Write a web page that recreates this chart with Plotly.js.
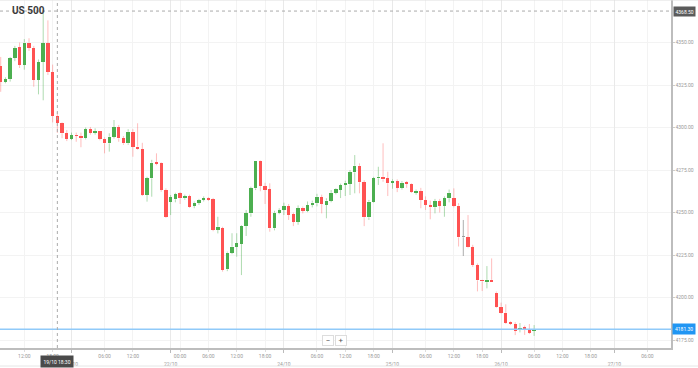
<!DOCTYPE html>
<html>
<head>
<meta charset="utf-8">
<script src="https://cdn.plot.ly/plotly-3.0.1.min.js"></script>
<style>html,body{margin:0;padding:0;background:#fff;}#chart{width:698px;height:368px;}</style>
</head>
<body>
<div id="chart"></div>
<script>
// hourly candles, index 0 = first visible candle (19/10)
const openP = [4336.2,4326.8,4328.5,4340.9,4347.4,4336.8,4350.0,4346.8,4328.0,4338.5,
4349.7,4332.6,4306.8,4302.6,4296.6,4293.4,4295.6,4295.0,4293.7,4299.0,
4297.0,4297.8,4293.4,4290.7,4294.6,4300.1,4293.6,4290.7,4297.5,4288.7,
4287.2,4260.3,4270.1,4279.7,4278.9,4263.2,4256.4,4257.8,4261.3,4258.4,
4259.7,4253.8,4255.8,4257.4,4258.4,4257.8,4239.7,4240.7,4216.6,4226.4,
4229.9,4231.5,4242.0,4249.5,4264.2,4280.5,4265.6,4263.6,4240.7,4250.0,
4251.5,4253.8,4249.1,4244.6,4252.8,4251.1,4254.4,4255.4,4259.0,4254.4,
4257.0,4261.6,4263.2,4266.2,4266.8,4273.6,4277.5,4267.8,4247.2,4256.4,
4270.1,4271.0,4270.1,4267.5,4268.5,4264.6,4267.8,4266.8,4261.6,4262.6,
4257.4,4254.4,4253.1,4256.8,4253.8,4258.4,4258.4,4254.0,4235.4,4235.6,
4229.5,4219.1,4210.1,4209.0,4210.4,4202.8,4194.6,4191.0,4185.6,4184.4,
4181.0,4182.5,4181.2,4180.5];
const highP = [4341.5,4329.5,4341.5,4348.0,4350.0,4352.0,4352.5,4348.0,4340.0,4367.4,
4363.0,4337.0,4309.0,4303.0,4298.5,4297.0,4297.0,4297.0,4300.0,4300.3,
4299.5,4297.8,4294.2,4296.6,4304.4,4301.5,4295.0,4299.0,4299.0,4302.5,
4291.0,4271.0,4281.0,4284.8,4279.5,4264.2,4260.3,4261.6,4262.0,4260.5,
4260.5,4256.5,4258.0,4259.5,4259.0,4258.6,4247.5,4241.6,4227.0,4237.8,
4237.8,4242.5,4251.5,4265.2,4280.5,4280.8,4267.5,4267.2,4251.0,4252.5,
4255.8,4255.0,4250.0,4254.2,4253.5,4256.5,4257.0,4261.0,4260.5,4258.4,
4263.2,4264.2,4267.0,4268.7,4275.0,4283.8,4278.9,4269.0,4257.4,4271.0,
4276.9,4290.7,4274.0,4269.5,4269.5,4268.5,4268.5,4267.2,4263.5,4264.5,
4259.5,4257.0,4258.0,4258.0,4259.5,4263.5,4264.2,4255.5,4245.6,4248.5,
4231.0,4220.0,4210.4,4218.5,4223.0,4203.5,4197.0,4196.0,4186.0,4185.5,
4185.0,4183.5,4184.4,4183.8];
const lowP = [4321.0,4326.0,4327.0,4339.0,4335.0,4334.0,4345.0,4324.0,4319.5,4316.0,
4330.9,4303.0,4296.8,4293.7,4292.0,4292.6,4291.6,4288.4,4293.0,4295.8,
4295.8,4292.5,4284.8,4285.8,4293.5,4291.6,4289.8,4289.8,4282.8,4286.8,
4259.7,4256.4,4259.3,4277.8,4262.2,4246.9,4248.5,4256.0,4255.0,4257.5,
4252.8,4252.5,4254.5,4256.5,4256.8,4239.0,4237.7,4215.2,4215.5,4225.5,
4224.0,4213.2,4236.2,4247.5,4263.2,4262.5,4255.0,4238.7,4239.5,4249.0,
4248.5,4245.6,4242.0,4242.8,4249.5,4250.2,4253.0,4253.6,4249.5,4246.6,
4256.0,4260.7,4258.5,4259.7,4260.3,4261.3,4261.3,4242.0,4245.6,4255.8,
4266.2,4268.1,4259.7,4264.0,4262.0,4263.5,4264.5,4261.5,4260.5,4252.5,
4251.5,4246.0,4249.5,4250.0,4247.5,4256.0,4253.0,4230.0,4224.4,4229.0,
4218.0,4203.6,4203.8,4205.4,4209.2,4194.0,4190.5,4184.5,4183.8,4177.9,
4179.5,4178.0,4178.5,4177.4];
const closeP = [4326.8,4328.5,4340.9,4346.8,4336.8,4350.0,4346.8,4328.0,4338.5,4349.7,
4332.6,4306.8,4302.6,4296.6,4293.2,4295.6,4295.0,4293.7,4299.0,4297.0,
4298.0,4293.2,4290.7,4294.6,4300.1,4293.6,4290.7,4297.5,4288.7,4287.2,
4260.3,4270.1,4279.3,4278.5,4263.2,4247.5,4258.9,4260.9,4258.4,4259.7,
4253.4,4255.8,4257.4,4258.4,4257.4,4239.7,4241.6,4216.2,4226.4,4229.9,
4231.9,4242.0,4249.5,4264.2,4280.5,4265.6,4263.2,4240.7,4249.9,4251.5,
4253.8,4248.5,4244.6,4252.5,4251.1,4254.4,4255.8,4259.3,4255.0,4257.0,
4261.6,4263.6,4266.2,4267.5,4273.6,4277.5,4267.8,4247.2,4256.4,4270.1,
4271.0,4269.5,4267.2,4268.7,4264.6,4267.5,4266.8,4262.2,4262.8,4257.4,
4254.4,4253.1,4256.8,4253.8,4258.4,4261.6,4254.0,4235.4,4235.4,4229.5,
4219.1,4210.1,4209.5,4210.4,4209.2,4194.6,4191.0,4185.2,4184.4,4180.5,
4182.0,4181.0,4179.3,4181.3];

const timeTickIdx  = [5, 11, 22, 28, 38, 44, 50, 56, 67, 73, 79, 90, 96, 102, 113, 119, 125, 137];
const timeTickText = ['12:00','18:00','06:00','12:00','00:00','06:00','12:00','18:00','06:00','12:00','18:00','06:00','12:00','18:00','06:00','12:00','18:00','06:00'];
const dateTickIdx  = [15, 36, 60, 83, 106, 130];
const dateTickText = ['20/10','22/10','24/10','25/10','26/10','27/10'];

const lastPrice = 4181.30;
const cursorPrice = 4368.50;
const cursorIdx = 12;
const cursorLabel = '19/10 18:30';
const yTicks = [4175, 4200, 4225, 4250, 4275, 4300, 4325, 4350];

const UP = '#4caf50', DOWN = '#ff5252', FLAT = '#9e9e9e';
const UPW = 'rgba(76,175,80,0.45)', DOWNW = 'rgba(255,82,82,0.38)', FLATW = 'rgba(120,120,120,0.6)';

const idx = openP.map((_, i) => i);
const bodyBase = [], bodyLen = [], bodyCol = [];
const wick = {up: {x: [], y: []}, down: {x: [], y: []}, flat: {x: [], y: []}};
idx.forEach(i => {
  const o = openP[i], c = closeP[i];
  const lo = Math.min(o, c), hi = Math.max(o, c);
  const len = Math.max(hi - lo, 0.7);
  bodyBase.push(lo);
  bodyLen.push(len);
  const k = c > o ? 'up' : (c < o ? 'down' : 'flat');
  bodyCol.push(k === 'up' ? UP : (k === 'down' ? DOWN : FLAT));
  const w = wick[k];
  w.x.push(i, i, null, i, i, null);
  w.y.push(highP[i], lo + len, null, lo, lowP[i], null);
});

const traces = [
  {type: 'scatter', mode: 'lines', x: wick.up.x, y: wick.up.y, line: {color: UPW, width: 1}, hoverinfo: 'skip', connectgaps: false},
  {type: 'scatter', mode: 'lines', x: wick.down.x, y: wick.down.y, line: {color: DOWNW, width: 1}, hoverinfo: 'skip', connectgaps: false},
  {type: 'scatter', mode: 'lines', x: wick.flat.x, y: wick.flat.y, line: {color: FLATW, width: 1}, hoverinfo: 'skip', connectgaps: false},
  {type: 'bar', x: idx, y: bodyLen, base: bodyBase, width: 0.72, marker: {color: bodyCol, line: {width: 0}}, hoverinfo: 'skip'},
  {type: 'scatter', mode: 'markers', x: [dateTickIdx[0]], y: [null], xaxis: 'x2', yaxis: 'y', hoverinfo: 'skip', marker: {size: 0, opacity: 0}}
];

const FONT = 'Roboto, "Open Sans", sans-serif';
const xr = [-0.15, 142];
const layout = {
  width: 698, height: 368,
  margin: {l: 0, r: 27, t: 0, b: 20},
  paper_bgcolor: '#fff', plot_bgcolor: '#fff',
  showlegend: false, bargap: 0, barmode: 'overlay',
  font: {family: FONT, size: 5, color: '#999'},
  xaxis: {
    range: xr, type: 'linear', tickmode: 'array', tickvals: timeTickIdx, ticktext: timeTickText,
    showgrid: true, gridcolor: '#f3f3f3', gridwidth: 1, zeroline: false,
    showline: true, linecolor: '#bdbdbd', linewidth: 1.5,
    ticks: 'outside', ticklen: 2, tickcolor: '#ddd',
    tickfont: {family: FONT, size: 5, color: '#999'}, fixedrange: true
  },
  xaxis2: {
    range: xr, type: 'linear', overlaying: 'x', side: 'bottom', anchor: 'y',
    tickmode: 'array', tickvals: dateTickIdx, ticktext: dateTickText,
    showgrid: true, gridcolor: '#e9e9e9', gridwidth: 1, zeroline: false, showline: false,
    ticks: 'outside', ticklen: 4, tickcolor: '#bbb', ticklabelstandoff: 7,
    tickfont: {family: FONT, size: 5, color: '#999'}, fixedrange: true
  },
  yaxis: {
    range: [4170.3, 4375], side: 'right', tickmode: 'array', tickvals: yTicks,
    tickformat: '.2f', showgrid: true, gridcolor: '#f3f3f3', zeroline: false,
    showline: true, linecolor: '#bdbdbd', linewidth: 1.5,
    ticks: 'outside', ticklen: 2, tickcolor: '#ccc',
    tickfont: {family: FONT, size: 5, color: '#999'}, fixedrange: true
  },
  shapes: [
    {type: 'line', xref: 'paper', yref: 'paper', x0: 0, x1: 698 / 671, y0: 1, y1: 1, line: {color: '#e0e0e0', width: 1}},
    {type: 'line', xref: 'paper', yref: 'paper', x0: 0, x1: 698 / 671, y0: -18 / 348, y1: -18 / 348, line: {color: '#e6e6e6', width: 1}},
    {type: 'line', xref: 'paper', yref: 'y', x0: 0, x1: 1, y0: lastPrice, y1: lastPrice, line: {color: '#90caf9', width: 1.5}},
    {type: 'line', xref: 'paper', yref: 'y', x0: 0, x1: 1, y0: cursorPrice, y1: cursorPrice, line: {color: '#aaa', width: 1, dash: 'dot'}},
    {type: 'line', xref: 'x', yref: 'paper', x0: cursorIdx, x1: cursorIdx, y0: 0, y1: 1, line: {color: '#aaa', width: 1, dash: 'dot'}}
  ],
  annotations: [
    {xref: 'paper', yref: 'paper', x: 10 / 671, y: (348 - 10) / 348, xanchor: 'left', yanchor: 'middle',
     text: '<b>US 500</b>', showarrow: false, font: {family: FONT, size: 10, color: '#3a3a3a'}},
    {xref: 'paper', yref: 'y', x: 1 + 2 / 671, y: cursorPrice, xanchor: 'left', yanchor: 'middle',
     text: cursorPrice.toFixed(2), showarrow: false, bgcolor: '#5b5b5b', borderpad: 1.5,
     font: {family: FONT, size: 5, color: '#fff'}},
    {xref: 'paper', yref: 'y', x: 1 + 1 / 671, y: lastPrice, xanchor: 'left', yanchor: 'middle',
     text: lastPrice.toFixed(2), showarrow: false, bgcolor: '#2196f3', borderpad: 2,
     font: {family: FONT, size: 5, color: '#fff'}},
    {xref: 'x', yref: 'paper', x: cursorIdx, y: -14 / 348, xanchor: 'center', yanchor: 'middle',
     text: cursorLabel, showarrow: false, bgcolor: '#4a4a4a', borderpad: 2.5,
     font: {family: FONT, size: 5, color: '#fff'}},
    {xref: 'paper', yref: 'paper', x: 328 / 671, y: 8 / 348, xanchor: 'center', yanchor: 'middle',
     text: '\u2212', showarrow: false, bgcolor: '#fff', bordercolor: '#ddd', borderwidth: 1, borderpad: 0.5,
     width: 9, height: 8, font: {family: FONT, size: 8, color: '#555'}},
    {xref: 'paper', yref: 'paper', x: 341 / 671, y: 8 / 348, xanchor: 'center', yanchor: 'middle',
     text: '+', showarrow: false, bgcolor: '#fff', bordercolor: '#ddd', borderwidth: 1, borderpad: 0.5,
     width: 9, height: 8, font: {family: FONT, size: 8, color: '#555'}}
  ]
};

Plotly.newPlot('chart', traces, layout, {staticPlot: true, displayModeBar: false});
</script>
</body>
</html>
